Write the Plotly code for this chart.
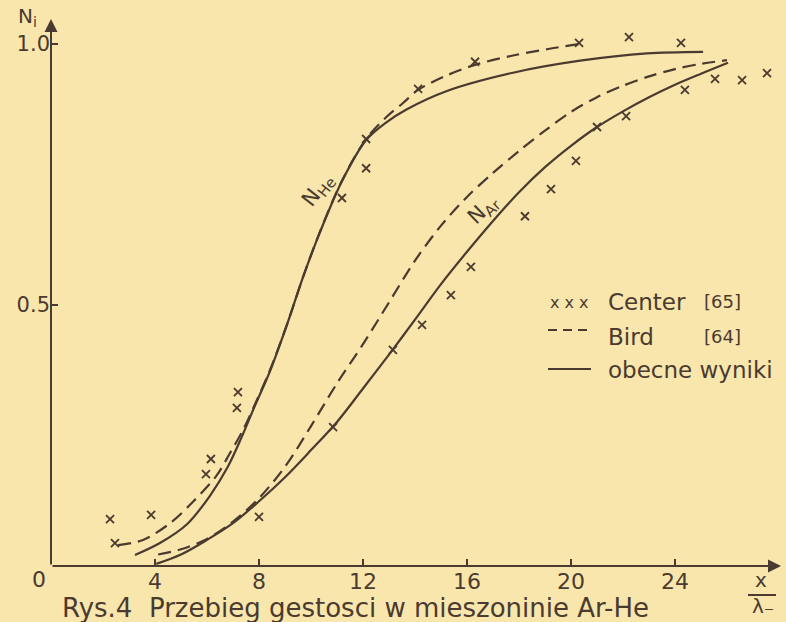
import plotly.graph_objects as go

# ---- data: reduced distance x/lambda and number densities N_i ----
center_x = [2.27, 2.46, 3.85, 5.96, 6.15, 7.15, 7.19, 8.0, 10.85, 11.19, 12.12, 12.12,
            13.15, 14.27, 14.12, 15.38, 16.15, 16.31, 18.23, 19.23, 20.19, 20.31, 21.0,
            22.12, 22.23, 24.23, 24.38, 25.54, 26.58, 27.54]
center_y = [0.090, 0.044, 0.098, 0.176, 0.205, 0.303, 0.333, 0.094, 0.266, 0.705, 0.762, 0.818,
            0.414, 0.462, 0.914, 0.519, 0.573, 0.966, 0.670, 0.722, 0.776, 1.002, 0.841,
            0.862, 1.013, 1.002, 0.912, 0.933, 0.931, 0.944]

# present results (solid)
he_solid_x = [3.23, 4.19, 5.23, 6.12, 6.8, 7.3, 7.8, 8.42, 9.08, 9.69, 10.35, 11.19,
              12.12, 12.9, 13.69, 15.23, 17.77, 20.35, 22.92, 25.08]
he_solid_y = [0.021, 0.044, 0.080, 0.135, 0.190, 0.243, 0.302, 0.373, 0.463, 0.553, 0.640, 0.737,
              0.816, 0.850, 0.875, 0.910, 0.945, 0.968, 0.982, 0.985]

ar_solid_x = [4.05, 5.0, 6.0, 7.0, 8.0, 9.0, 10.0, 11.0, 12.0, 13.0, 14.0, 15.0, 16.0,
              17.0, 18.0, 19.0, 20.0, 21.0, 22.0, 23.0, 24.0, 25.0, 26.04]
ar_solid_y = [0.004, 0.022, 0.050, 0.082, 0.124, 0.170, 0.222, 0.276, 0.340, 0.405, 0.472, 0.540, 0.602,
              0.661, 0.716, 0.764, 0.805, 0.841, 0.871, 0.898, 0.922, 0.943, 0.964]

# Bird (dashed)
he_bird_x = [2.58, 3.54, 4.58, 5.46, 6.38, 6.88, 7.35, 7.92, 8.42, 9.08, 9.69, 10.35, 11.19,
             12.12, 12.9, 13.54, 14.12, 15.23, 16.31, 17.77, 19.08, 20.31]
he_bird_y = [0.040, 0.050, 0.082, 0.123, 0.174, 0.216, 0.257, 0.318, 0.375, 0.463, 0.553, 0.641, 0.738,
             0.818, 0.860, 0.887, 0.912, 0.940, 0.960, 0.978, 0.990, 1.000]

ar_bird_x = [4.12, 5.0, 6.0, 7.0, 8.0, 9.0, 10.0, 11.0, 12.0, 13.0, 14.0, 15.0, 16.0,
             17.0, 18.0, 19.0, 20.0, 21.0, 22.0, 23.0, 24.0, 25.0, 26.0]
ar_bird_y = [0.022, 0.032, 0.052, 0.085, 0.130, 0.190, 0.268, 0.350, 0.425, 0.505, 0.585, 0.652, 0.707,
             0.753, 0.795, 0.834, 0.870, 0.898, 0.920, 0.938, 0.952, 0.962, 0.969]

x_ticks = [4, 8, 12, 16, 20, 24]
y_ticks = [0.5, 1.0]
y_tick_text = ["0.5", "1.0"]

# ---- styling ----
INK = "#4a3a2f"
PAPER = "#f8e6ac"
FONT = "DejaVu Sans, sans-serif"

W, H = 786, 622
ML, MR, MT, MB = 51, 5, 20, 56
PW, PH = W - ML - MR, H - MT - MB
PX_PER_X = 26.0
PX_PER_Y = 522.0
X_MAX = PW / PX_PER_X
Y_MAX = PH / PX_PER_Y


def px_x(px):
    """screen x pixel -> paper fraction"""
    return (px - ML) / PW


def px_y(py):
    """screen y pixel -> paper fraction"""
    return (H - MB - py) / PH


fig = go.Figure()

line_kw = dict(shape="spline", smoothing=0.9)
DASH = "13px,7px"

fig.add_trace(go.Scatter(x=he_bird_x, y=he_bird_y, mode="lines",
                         line=dict(color=INK, width=2.2, dash=DASH, **line_kw)))
fig.add_trace(go.Scatter(x=ar_bird_x, y=ar_bird_y, mode="lines",
                         line=dict(color=INK, width=2.2, dash=DASH, **line_kw)))
fig.add_trace(go.Scatter(x=he_solid_x, y=he_solid_y, mode="lines",
                         line=dict(color=INK, width=2.2, **line_kw)))
fig.add_trace(go.Scatter(x=ar_solid_x, y=ar_solid_y, mode="lines",
                         line=dict(color=INK, width=2.2, **line_kw)))
fig.add_trace(go.Scatter(x=center_x, y=center_y, mode="markers",
                         marker=dict(symbol="x-thin", size=8, color=INK,
                                     line=dict(color=INK, width=1.8))))

annotations = []

# axes drawn as arrows
annotations.append(dict(x=px_x(781), y=0, xref="paper", yref="paper",
                        showarrow=True, arrowhead=2, arrowsize=1.3, arrowwidth=2,
                        arrowcolor=INK, text="", standoff=0, ax=-(781 - ML), ay=0))
annotations.append(dict(x=0, y=px_y(19), xref="paper", yref="paper",
                        showarrow=True, arrowhead=2, arrowsize=1.3, arrowwidth=2,
                        arrowcolor=INK, text="", ax=0, ay=(H - MB - 19)))


def label(text, px, py, size, anchor="center", angle=0, vanchor="middle"):
    annotations.append(dict(x=px_x(px), y=px_y(py), xref="paper", yref="paper", text=text,
                            showarrow=False, xanchor=anchor, yanchor=vanchor,
                            textangle=angle, font=dict(family=FONT, size=size, color=INK)))


label("0", 39, 579, 22)
label("N<sub>i</sub>", 27, 32, 20, vanchor="bottom")
label("x", 761, 594, 20, vanchor="bottom")
label("λ₋", 763, 606, 20)
label("Rys.4  Przebieg gestosci w mieszoninie Ar-He", 60, 608, 26, anchor="left")

# curve names
label("N<sub>He</sub>", 318, 190, 21, angle=-52)
label("N<sub>Ar</sub>", 484, 209, 21, angle=-44)

# key
label("x x x", 548, 303, 16, anchor="left")
label("Center", 606, 302, 23, anchor="left")
label("[65]", 702, 302, 18, anchor="left")
label("Bird", 606, 337, 23, anchor="left")
label("[64]", 702, 337, 18, anchor="left")
label("obecne wyniki", 606, 370, 23, anchor="left")

shapes = [
    dict(type="line", xref="paper", yref="paper", x0=px_x(748), x1=px_x(776),
         y0=px_y(595), y1=px_y(595), line=dict(color=INK, width=2)),
    dict(type="line", xref="paper", yref="paper", x0=px_x(548), x1=px_x(591),
         y0=px_y(330), y1=px_y(330), line=dict(color=INK, width=2, dash="9px,6px")),
    dict(type="line", xref="paper", yref="paper", x0=px_x(548), x1=px_x(591),
         y0=px_y(369), y1=px_y(369), line=dict(color=INK, width=2)),
]

fig.update_layout(
    width=W, height=H,
    margin=dict(l=ML, r=MR, t=MT, b=MB),
    paper_bgcolor=PAPER, plot_bgcolor=PAPER,
    showlegend=False,
    font=dict(family=FONT, color=INK),
    annotations=annotations,
    shapes=shapes,
)
fig.update_xaxes(range=[0, X_MAX], showgrid=False, zeroline=False, showline=False,
                 tickmode="array", tickvals=x_ticks, ticks="inside", ticklen=7,
                 tickwidth=2, tickcolor=INK, tickfont=dict(family=FONT, size=22, color=INK))
fig.update_yaxes(range=[0, Y_MAX], showgrid=False, zeroline=False, showline=False,
                 tickmode="array", tickvals=y_ticks, ticktext=y_tick_text, ticks="inside",
                 ticklen=7, tickwidth=2, tickcolor=INK,
                 tickfont=dict(family=FONT, size=21, color=INK))

fig.write_html("out.html")
